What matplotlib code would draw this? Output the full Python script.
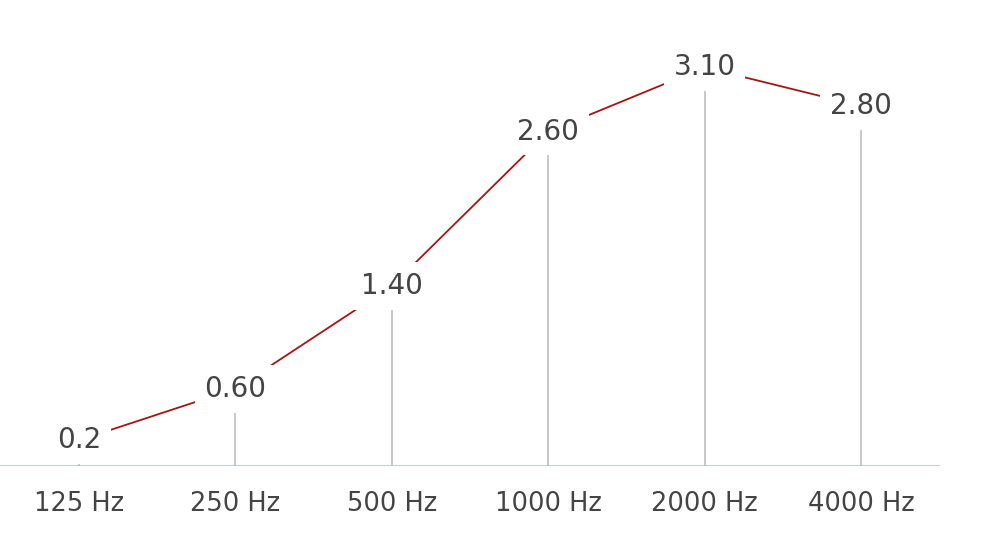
import matplotlib
matplotlib.use("Agg")
import matplotlib.pyplot as plt
import numpy as np

# data
freqs = ["125 Hz", "250 Hz", "500 Hz", "1000 Hz", "2000 Hz", "4000 Hz"]
values = [0.2, 0.6, 1.4, 2.6, 3.1, 2.8]
value_labels = ["0.2", "0.60", "1.40", "2.60", "3.10", "2.80"]

plt.rcParams['font.family'] = ['DejaVu Sans']

fig = plt.figure(figsize=(10, 5.43), dpi=100)
ax = fig.add_axes([0.0, 0.1418, 0.94, 0.8287])

x = np.arange(len(freqs))

# gray stems stop a bit below each label
gap = 0.163
ax.vlines(x, 0, np.array(values) - gap, color="#b9b9bf", lw=1.1, zorder=1)

# red connecting line, hidden behind the label boxes
ax.plot(x, values, color="#a31515", lw=1.3, zorder=2)

for xi, v, lab in zip(x, values, value_labels):
    ax.text(xi, v, lab, ha="center", va="center", fontsize=20, color="#444444",
            zorder=3,
            bbox=dict(boxstyle="square,pad=0.35", fc="white", ec="none"))

ax.axhline(0, color="#c3cfe2", lw=1.5, zorder=0)

ax.set_xlim(-0.505, 5.505)
ax.set_ylim(0, 3.5)
ax.set_xticks(x)
ax.set_xticklabels(freqs, fontsize=18.5, color="#444444")
ax.tick_params(axis="x", length=0, pad=18)
ax.set_yticks([])
for s in ax.spines.values():
    s.set_visible(False)

fig.savefig("out.png", dpi=100)
